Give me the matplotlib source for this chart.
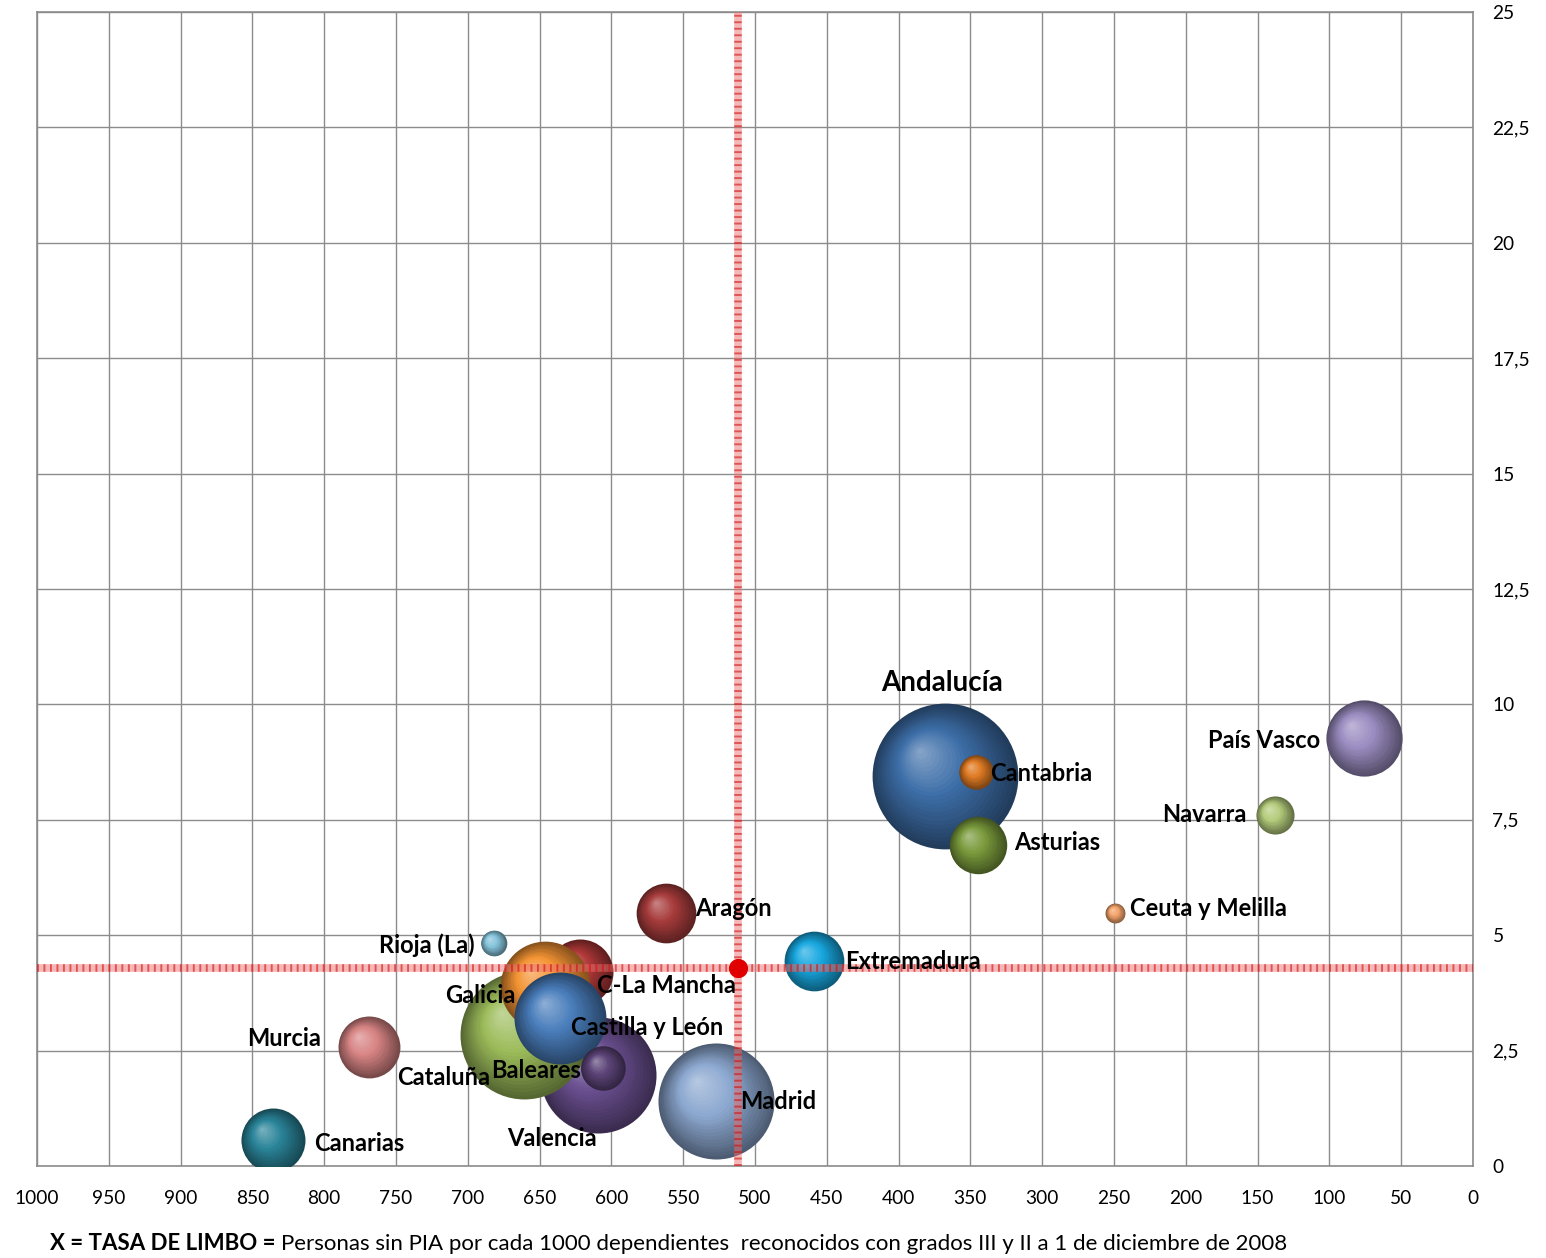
import numpy as np
import matplotlib.pyplot as plt
from matplotlib import transforms
from matplotlib.colors import to_rgb

# datos (orden = orden de dibujo)
comunidades = ['Andalucía', 'Cantabria', 'Asturias', 'País Vasco', 'Navarra',
               'Ceuta y Melilla', 'Extremadura', 'Aragón', 'Rioja (La)', 'Valencia',
               'Cataluña', 'C-La Mancha', 'Galicia', 'Castilla y León', 'Baleares',
               'Madrid', 'Murcia', 'Canarias']
tasa_limbo = [368, 346, 345, 76, 138, 249, 459, 562, 682, 609,
              661, 622, 646, 636, 606, 527, 769, 836]
eje_y = [8.45, 8.54, 6.95, 9.27, 7.6, 5.48, 4.44, 5.48, 4.83, 1.97,
         2.84, 4.2, 3.9, 3.2, 2.12, 1.41, 2.58, 0.56]
dependientes = [161, 9, 25, 44, 11, 3, 27, 27, 5, 102,
                124, 33, 61, 64, 15, 102, 29, 31]
colores = ['#3d6ea8', '#e07b24', '#7a9a3c', '#9a8cc0', '#b4cc7c',
           '#f4a46c', '#18a8e0', '#a83c3c', '#86c4dc', '#6a4f90',
           '#9cbc5a', '#b03838', '#f49434', '#4a7ebc', '#5c4478',
           '#8ca8d0', '#d88484', '#2a8499']
# posición de la etiqueta respecto a la burbuja (px), alineación
etiquetas = {
    'Andalucía': (-3, 93, 'center'), 'Cantabria': (14, -2, 'left'),
    'Asturias': (37, 3, 'left'), 'País Vasco': (-44, -2, 'right'),
    'Navarra': (-28, 1, 'right'), 'Ceuta y Melilla': (15, 5, 'left'),
    'Extremadura': (31, 0, 'left'), 'Aragón': (29, 5, 'left'),
    'Rioja (La)': (-19, -2, 'right'), 'Valencia': (-47, -63, 'center'),
    'Cataluña': (-34, -43, 'right'), 'C-La Mancha': (17, -13, 'left'),
    'Galicia': (-30, -10, 'right'), 'Castilla y León': (11, -9, 'left'),
    'Baleares': (-22, -2, 'right'), 'Madrid': (24, -1, 'left'),
    'Murcia': (-48, 8, 'right'), 'Canarias': (42, -3, 'left'),
}
media_x = 512
media_y = 4.29
x_ticks = list(range(0, 1001, 50))
y_ticks = [0, 2.5, 5, 7.5, 10, 12.5, 15, 17.5, 20, 22.5, 25]

plt.rcParams['font.family'] = ['Lato', 'DejaVu Sans']
DPI = 100
fig = plt.figure(figsize=(15.46, 12.58), dpi=DPI)
ax = fig.add_axes([37 / 1546, 92 / 1258, 1436 / 1546, 1154 / 1258])
ax.set_xlim(1000, 0)
ax.set_ylim(0, 25)

ax.set_xticks(x_ticks)
ax.set_yticks(y_ticks)
ax.set_yticklabels([f'{v:g}'.replace('.', ',') for v in y_ticks])
ax.yaxis.tick_right()
ax.tick_params(axis='x', length=0, pad=17, labelsize=13.8)
ax.tick_params(axis='y', length=0, pad=14, labelsize=13.8)
for lab in ax.get_yticklabels():
    lab.set_horizontalalignment('left')
ax.grid(True, color='#8c8c8c', linewidth=1.0)
ax.set_axisbelow(True)
for sp in ax.spines.values():
    sp.set_color('#8c8c8c')
    sp.set_linewidth(1.2)


def esfera(x, y, valor, color, z):
    # burbuja con sombreado tipo esfera: capas concéntricas desplazadas
    r_px = np.sqrt(valor * 33)
    base = np.array(to_rgb(color))
    n = 24
    for i in range(n):
        f = 1 - i / n
        t = i / (n - 1)
        if t < 0.55:
            c = base * (0.55 + 0.45 * t / 0.55)
        else:
            c = base + (1 - base) * (t - 0.55) * 0.8
        c = np.clip(c, 0, 1)
        dx = -(1 - f) * 0.35 * r_px
        dy = (1 - f) * 0.35 * r_px
        tr = transforms.offset_copy(ax.transData, fig, x=dx, y=dy, units='dots')
        s = (2 * r_px * f * 72 / DPI) ** 2
        ax.scatter([x], [y], s=s, color=c, transform=tr, linewidths=0,
                   zorder=z + i * 0.001)


for k, nom in enumerate(comunidades):
    esfera(tasa_limbo[k], eje_y[k], dependientes[k], colores[k], 3 + k * 0.05)
    dx, dy, ha = etiquetas[nom]
    big = nom == 'Andalucía'
    ax.annotate(nom, (tasa_limbo[k], eje_y[k]), xytext=(dx, dy),
                textcoords='offset pixels', ha=ha, va='center',
                fontsize=20 if big else 17, fontweight='bold',
                color='black', zorder=10)

# cruz de medias
for kw in [dict(color='#ec7070', alpha=0.5, lw=5.5),
           dict(color='#d01010', alpha=0.6, lw=5.5, ls=(0, (0.25, 0.6)))]:
    ax.axvline(media_x, zorder=8, **kw)
    ax.axhline(media_y, zorder=8, **kw)
ax.scatter([media_x], [media_y], s=190, color='#e00000', zorder=9, linewidths=0)

t1 = fig.text(50 / 1546, 1 - 1244 / 1258, 'X = TASA DE LIMBO = ', fontsize=16,
              fontweight='bold', va='center', ha='left')
ax.annotate('Personas sin PIA por cada 1000 dependientes  reconocidos con grados III y II a 1 de diciembre de 2008',
            xy=(1, 0.5), xycoords=t1, va='center', ha='left', fontsize=16,
            annotation_clip=False)

fig.savefig('out.png', dpi=DPI)
